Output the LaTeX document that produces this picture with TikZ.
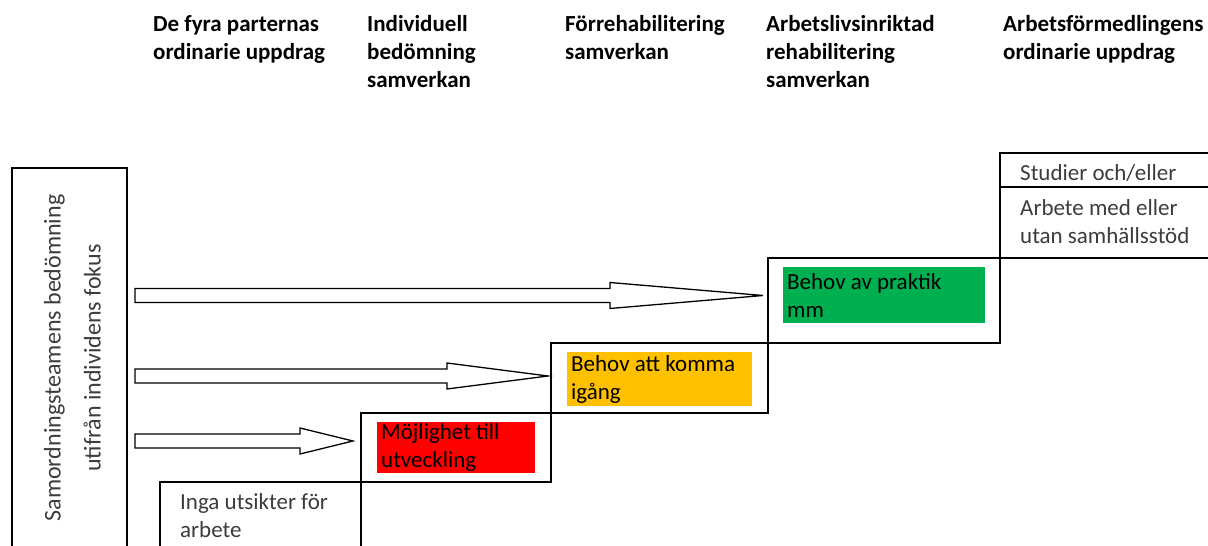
\documentclass[tikz,border=0pt]{standalone}
\usepackage{fontspec}
\setmainfont{Carlito}
\usetikzlibrary{positioning,calc}
\definecolor{tagred}{RGB}{255,0,0}
\definecolor{tagyellow}{RGB}{255,192,0}
\definecolor{taggreen}{RGB}{0,176,80}
\definecolor{textgray}{RGB}{60,60,60}

\newcommand{\fatarrow}[3]{%
  \draw[fatarrow] let \p1=(#1), \p2=(#3) in
    (\x1+8pt,\y2+7pt) -- (\x2-#2pt,\y2+7pt) -- (\x2-#2pt,\y2+13pt) -- (\p2)
    -- (\x2-#2pt,\y2-13pt) -- (\x2-#2pt,\y2-7pt) -- (\x1+8pt,\y2-7pt) -- cycle;}

\begin{document}
\begin{tikzpicture}[x=1pt,y=1pt,
    every node/.style={font=\fontsize{23}{28}\selectfont,inner sep=0pt},
    stepbox/.style={draw,line width=1.8pt,outer sep=0pt,anchor=north west},
    tagbox/.style={align=flush left,inner xsep=4pt,text=black},
    colhead/.style={anchor=north west,align=left,font=\fontsize{23}{28}\selectfont\bfseries},
    plain/.style={align=left,text=textgray},
    fatarrow/.style={draw,line width=1.3pt,fill=white,line join=miter}
  ]
  \useasboundingbox (0,0) rectangle (1208,546);
  \clip (0,0) rectangle (1208,546);

  % the column headings
  \foreach \x/\txt [count=\i] in {153/{De fyra parternas\\ordinarie uppdrag},
      367/{Individuell\\bedömning\\samverkan},
      565/{Förrehabilitering\\samverkan},
      766/{Arbetslivsinriktad\\rehabilitering\\samverkan},
      1003/{Arbetsförmedlingens\\ordinarie uppdrag}}
    \node[colhead] (head\i) at (\x,531) {\txt};

  % the team box
  \node[stepbox,minimum width=115,minimum height=400] (team) at (12,378) {};
  \node[rotate=90,align=center,text=textgray,font=\fontsize{24}{40}\selectfont]
    (teamtext) at ($(team.north)+(3,-190)$)
    {Samordningsteamens bedömning\\utifrån individens fokus};

  % the steps
  \node[stepbox,minimum width=201,minimum height=90] (stepA) at (160,64) {};
  \node[stepbox,minimum width=190,minimum height=69,above right=0pt and 0pt of stepA.north east] (stepB) {};
  \node[stepbox,minimum width=217,minimum height=70,above right=0pt and 0pt of stepB.north east] (stepC) {};
  \node[stepbox,minimum width=232,minimum height=85,above right=0pt and 0pt of stepC.north east] (stepD) {};
  \node[stepbox,minimum width=240,minimum height=105,above right=0pt and 0pt of stepD.north east] (stepE) {};
  \draw[line width=1.8pt] ([yshift=-34]stepE.north west) -- ([yshift=-34]stepE.north east);

  % the coloured tags
  \node[tagbox,fill=tagred,minimum width=158,minimum height=51,text width=150,
    below right=9pt and 16pt of stepB.north west] (tagB) {Möjlighet till\\utveckling};
  \node[tagbox,fill=tagyellow,minimum width=185,minimum height=54,text width=177,
    below right=9pt and 16pt of stepC.north west] (tagC) {Behov att komma\\igång};
  \node[tagbox,fill=taggreen,minimum width=202,minimum height=56,text width=194,
    below right=9pt and 15pt of stepD.north west] (tagD) {Behov av praktik\\mm};

  % the plain texts
  \node[plain,below right=11pt and 20pt of stepA.north west] (noprospect) {Inga utsikter för\\arbete};
  \node[plain,below right=11pt and 20pt of stepE.north west] (studies) {Studier och/eller};
  \node[plain,below right=46pt and 20pt of stepE.north west] (work) {Arbete med eller\\utan samhällsstöd};

  % the arrows
  \coordinate (tip1) at ([xshift=-5,yshift=5]stepD.west);
  \coordinate (tip2) at ([xshift=-3,yshift=2]stepC.west);
  \coordinate (tip3) at ([xshift=-8,yshift=6.5]stepB.west);
  \fatarrow{team.east}{153}{tip1}
  \fatarrow{team.east}{101}{tip2}
  \fatarrow{team.east}{53}{tip3}
\end{tikzpicture}
\end{document}
